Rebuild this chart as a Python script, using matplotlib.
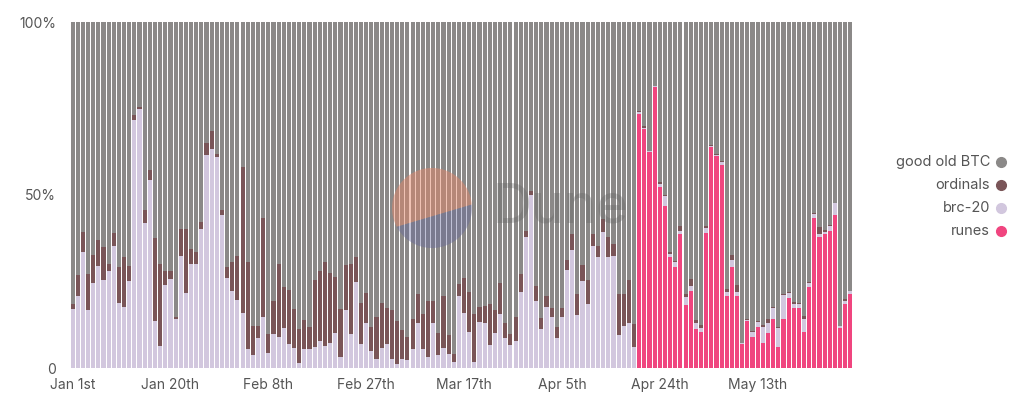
import numpy as np
import pandas as pd
import matplotlib
matplotlib.use("Agg")
import matplotlib.pyplot as plt
from matplotlib.patches import Polygon

plt.rcParams['font.family'] = ['Inter', 'DejaVu Sans']

# daily share of bitcoin transactions, Jan 1st - May 31st 2024 (%)
days = pd.date_range("2024-01-01", periods=152, freq="D")

runes = [0.0] * 110 + [
    73.5, 69.2, 62.4, 81.2, 52.3, 46.7, 32.0, 29.1, 38.6, 18.3,
    22.3, 11.2, 10.5, 38.9, 63.8, 61.2, 58.6, 20.9, 29.3, 20.9,
    6.9, 13.6, 9.1, 11.9, 7.1, 10.1, 14.3, 6.1, 14.1, 20.2,
    17.2, 17.2, 10.5, 23.3, 43.4, 37.8, 38.6, 39.7, 44.1, 11.7,
    18.4, 21.3,
]

brc20 = [
    17.0, 20.9, 33.4, 16.8, 24.7, 29.6, 25.5, 28.1, 35.4, 18.9,
    17.7, 25.2, 71.6, 75.0, 41.8, 54.4, 13.6, 6.4, 24.1, 25.7,
    14.1, 32.5, 21.8, 30.2, 30.1, 40.2, 61.7, 63.4, 61.0, 44.1,
    26.0, 22.3, 19.6, 16.0, 5.4, 3.8, 8.8, 14.6, 4.4, 9.9,
    9.1, 11.5, 6.9, 5.9, 1.5, 5.4, 5.4, 6.1, 7.8, 6.4,
    7.3, 10.2, 3.2, 16.7, 9.8, 24.9, 7.0, 13.1, 4.9, 2.5,
    5.9, 6.9, 2.5, 1.3, 2.5, 2.2, 5.4, 13.1, 5.4, 3.2,
    13.1, 3.8, 5.9, 4.0, 1.8, 20.9, 16.0, 10.5, 1.8, 13.4,
    12.9, 6.6, 10.2, 15.7, 8.6, 6.6, 7.9, 22.1, 37.8, 50.1,
    19.4, 11.2, 17.7, 14.6, 8.8, 14.8, 28.3, 34.1, 15.3, 25.2,
    18.6, 35.4, 32.2, 39.2, 32.0, 32.5, 9.6, 12.2, 13.1, 6.1,
    0.4, 0.3, 0.2, 0.2, 1.0, 2.9, 1.0, 1.4, 1.1, 2.3,
    1.5, 1.7, 1.1, 1.5, 0.4, 0.4, 0.9, 1.2, 2.0, 1.2,
    0.2, 0.4, 1.4, 1.4, 4.7, 2.8, 2.9, 5.4, 7.0, 1.6,
    1.4, 1.2, 3.6, 1.2, 1.1, 0.8, 0.7, 1.3, 3.5, 0.3,
    1.0, 0.9,
]

ordinals = [
    1.5, 6.0, 6.0, 10.3, 8.0, 7.5, 9.4, 1.9, 3.5, 10.2,
    14.3, 4.4, 1.4, 0.3, 3.9, 2.9, 24.0, 23.8, 3.8, 2.2,
    0.7, 7.7, 18.4, 4.2, 3.3, 1.9, 3.4, 5.0, 0.9, 1.6,
    3.1, 8.4, 12.9, 42.1, 25.3, 8.4, 3.4, 28.7, 5.4, 9.5,
    21.1, 12.0, 15.6, 11.1, 9.7, 8.4, 6.5, 19.3, 20.3, 24.3,
    20.3, 16.0, 13.8, 13.2, 20.4, 7.1, 11.9, 8.5, 7.0, 12.1,
    13.0, 10.3, 14.2, 12.3, 8.4, 6.9, 8.7, 8.3, 10.3, 16.2,
    6.3, 6.4, 15.0, 5.4, 2.2, 3.5, 10.0, 11.6, 13.8, 4.3,
    5.1, 12.0, 6.5, 8.9, 4.5, 3.3, 6.7, 5.2, 1.9, 1.2,
    4.4, 3.2, 3.2, 2.6, 3.1, 2.4, 3.0, 4.6, 6.2, 4.5,
    6.8, 3.3, 3.2, 3.9, 5.8, 3.2, 11.7, 9.1, 12.3, 6.6,
    0.3, 0.3, 0.2, 0.2, 0.4, 0.4, 0.5, 0.5, 1.2, 0.7,
    1.9, 0.9, 0.7, 0.5, 0.2, 0.2, 0.2, 0.7, 1.4, 2.0,
    0.1, 0.2, 0.2, 0.3, 0.6, 1.4, 0.5, 0.4, 0.3, 0.3,
    0.6, 0.5, 1.0, 0.4, 0.2, 2.1, 0.5, 0.2, 0.2, 0.1,
    0.5, 0.1,
]

tick_days = ["2024-01-01", "2024-01-20", "2024-02-08", "2024-02-27",
             "2024-03-17", "2024-04-05", "2024-04-24", "2024-05-13"]
tick_labels = ["Jan 1st", "Jan 20th", "Feb 8th", "Feb 27th",
               "Mar 17th", "Apr 5th", "Apr 24th", "May 13th"]

names = ["good old BTC", "ordinals", "brc-20", "runes"]
colors = {"good old BTC": "#8b8988", "ordinals": "#7a5558",
          "brc-20": "#d2c7de", "runes": "#f0457f"}

runes = np.array(runes)
brc20 = np.array(brc20)
ordinals = np.array(ordinals)
btc = 100 - runes - brc20 - ordinals

fig_w, fig_h = 1024, 396
fig = plt.figure(figsize=(10.24, 3.96), dpi=100)
ax = fig.add_axes([70 / fig_w, 1 - 368 / fig_h, 783 / fig_w, 346 / fig_h])

x = np.arange(len(days))
bottom = np.zeros(len(days))
for name, vals in [("runes", runes), ("brc-20", brc20),
                   ("ordinals", ordinals), ("good old BTC", btc)]:
    ax.bar(x, vals, bottom=bottom, width=0.8, color=colors[name], linewidth=0)
    bottom += vals

ax.set_xlim(-0.5, len(days) - 0.5)
ax.set_ylim(0, 100)

tick_pos = [days.get_loc(pd.Timestamp(d)) for d in tick_days]
ax.set_xticks(tick_pos)
ax.set_xticklabels(tick_labels)
ax.set_yticks([0, 50, 100])
ax.set_yticklabels(["0", "50%", "100%"])
ax.tick_params(length=0, labelsize=10, colors="#555555", pad=7)
ax.tick_params(axis="y", pad=10)
for s in ax.spines.values():
    s.set_visible(False)

# Dune watermark: circle split by a tilted chord, then the word
wm = fig.add_axes([(432 - 45) / fig_w, 1 - (208 + 45) / fig_h, 90 / fig_w, 90 / fig_h])
wm.set_xlim(-45, 45)
wm.set_ylim(-45, 45)
wm.set_aspect("equal")
wm.axis("off")
lower_ang = np.radians(np.linspace(-152, 5, 120))
upper_ang = np.radians(np.linspace(5, 208, 120))
wm.add_patch(Polygon(np.column_stack([40 * np.cos(upper_ang), 40 * np.sin(upper_ang)]),
                     closed=True, color="#e2876a", alpha=0.5, linewidth=0))
wm.add_patch(Polygon(np.column_stack([40 * np.cos(lower_ang), 40 * np.sin(lower_ang)]),
                     closed=True, color="#62649a", alpha=0.4, linewidth=0))
fig.text(493 / fig_w, 1 - 208 / fig_h, "Dune", fontsize=39, color="#5e5e5e",
         alpha=0.3, va="center", ha="left", fontweight="medium")

# legend, labels on the left of the dots
leg_y = [162, 185, 208, 231]
for name, yy in zip(names, leg_y):
    fig.text(990 / fig_w, 1 - yy / fig_h, name, ha="right", va="center",
             fontsize=10.5, color="#555555")
    fig.add_artist(plt.Line2D([1001 / fig_w], [1 - yy / fig_h], marker="o",
                              markersize=7, color=colors[name], linestyle="none",
                              transform=fig.transFigure))

fig.savefig("out.png", dpi=100)
